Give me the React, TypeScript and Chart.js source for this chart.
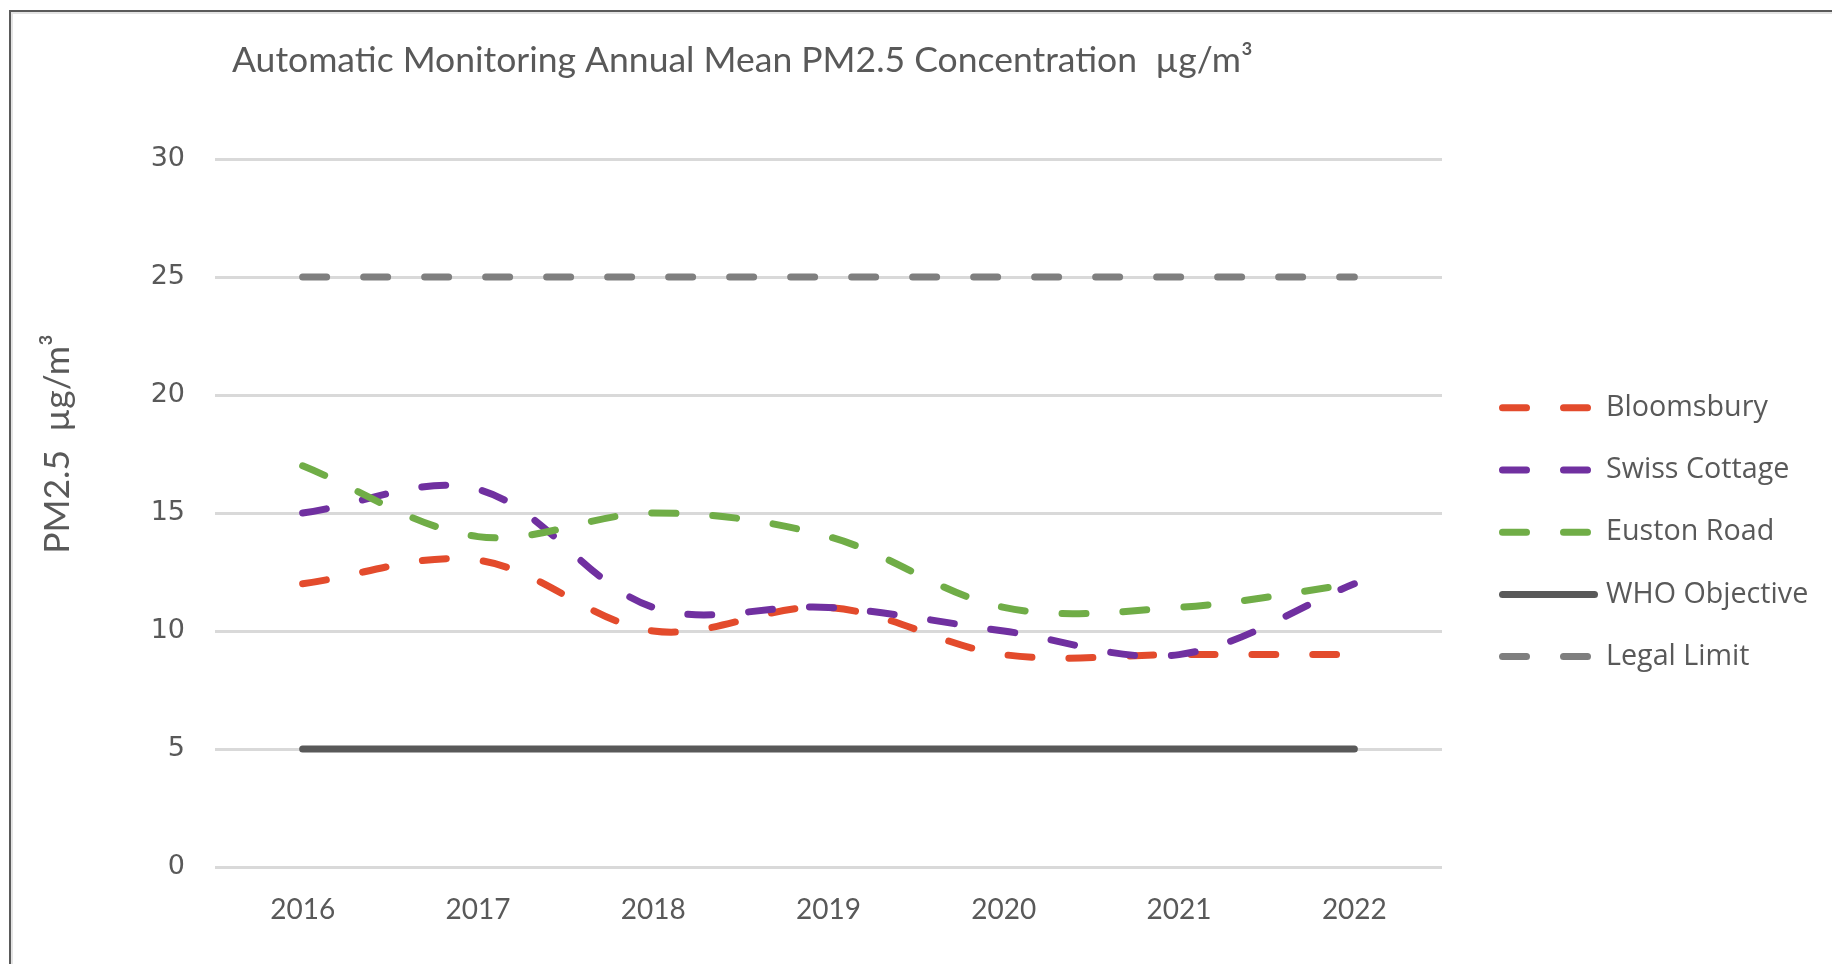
import React, { useEffect, useRef } from "react";
import { Chart, registerables } from "chart.js";

Chart.register(...registerables);

// ---- data ----
const years = ["2016", "2017", "2018", "2019", "2020", "2021", "2022"];
const bloomsbury = [12, 13, 10, 11, 9, 9, 9];
const swissCottage = [15, 16, 11, 11, 10, 9, 12];
const eustonRoad = [17, 14, 15, 14, 11, 11, 12];
const whoObjective = [5, 5, 5, 5, 5, 5, 5];
const legalLimit = [25, 25, 25, 25, 25, 25, 25];
const seriesNames = ["Bloomsbury", "Swiss Cottage", "Euston Road", "WHO Objective", "Legal Limit"];
const seriesColors = ["#E34B2C", "#7030A0", "#70AD47", "#595959", "#7F7F7F"];
const seriesDashed = [true, true, true, false, true];
const yMin = 0;
const yMax = 30;
const yStep = 5;
const chartTitle = "Automatic Monitoring Annual Mean PM2.5 Concentration  µg/m³";
const yAxisTitle = "PM2.5  µg/m³";

const TEXT = "#595959";
const DASH = [24, 37];

const overlayPlugin = {
  id: "overlay",
  afterDraw(chart: any) {
    const ctx = chart.ctx;
    ctx.save();
    // title
    ctx.fillStyle = TEXT;
    ctx.font = "35.5px Lato";
    ctx.textAlign = "left";
    ctx.textBaseline = "middle";
    ctx.fillText(chartTitle, 232, 61);

    // y axis title
    ctx.save();
    ctx.translate(58, 444);
    ctx.rotate(-Math.PI / 2);
    ctx.textAlign = "center";
    ctx.textBaseline = "middle";
    ctx.font = "35.5px Lato";
    ctx.fillText(yAxisTitle, 0, 0);
    ctx.restore();

    // legend
    const x0 = 1502.5;
    const x1 = 1592.5;
    const top = 407.8;
    const gap = 62.2;
    chart.data.datasets.forEach((ds: any, i: number) => {
      const y = top + i * gap;
      ctx.beginPath();
      ctx.strokeStyle = ds.borderColor;
      ctx.lineWidth = ds.borderWidth;
      ctx.lineCap = "round";
      ctx.setLineDash(ds.borderDash || []);
      ctx.moveTo(x0, y);
      ctx.lineTo(ds.borderDash && ds.borderDash.length ? x1 : x1 + 2, y);
      ctx.stroke();
      ctx.setLineDash([]);
      ctx.fillStyle = TEXT;
      ctx.font = "28.7px 'Open Sans'";
      ctx.textAlign = "left";
      ctx.textBaseline = "middle";
      ctx.fillText(ds.label, 1606, y);
    });
    ctx.restore();
  },
};

export default function App() {
  const ref = useRef<HTMLCanvasElement | null>(null);

  useEffect(() => {
    if (!ref.current) return;
    const values = [bloomsbury, swissCottage, eustonRoad, whoObjective, legalLimit];
    const chart = new Chart(ref.current, {
      type: "line",
      data: {
        labels: years,
        datasets: values.map((v, i) => ({
          label: seriesNames[i],
          data: v,
          borderColor: seriesColors[i],
          backgroundColor: seriesColors[i],
          borderWidth: 7,
          borderDash: seriesDashed[i] ? DASH : [],
          borderCapStyle: "round" as const,
          borderJoinStyle: "round" as const,
          pointRadius: 0,
          pointHoverRadius: 0,
          tension: i < 3 ? 0.35 : 0,
          fill: false,
          order: 10 - i,
        })),
      },
      options: {
        animation: false,
        responsive: false,
        devicePixelRatio: 1,
        events: [],
        layout: { padding: { left: 0, right: 390, top: 159, bottom: 0 } },
        plugins: {
          legend: { display: false },
          title: { display: false },
          tooltip: { enabled: false },
        },
        scales: {
          x: {
            offset: true,
            grid: { display: false, drawTicks: false },
            border: { display: false },
            ticks: {
              color: TEXT,
              font: { family: "Lato", size: 28 },
              padding: 26,
              maxRotation: 0,
            },
            afterFit(scale: any) {
              scale.height = 964 - 867;
            },
          },
          y: {
            min: yMin,
            max: yMax,
            grid: { color: "#D9D9D9", lineWidth: 3, drawTicks: false },
            border: { display: false },
            ticks: {
              stepSize: yStep,
              color: TEXT,
              font: { family: "DejaVu Sans", size: 27 },
              padding: 30,
            },
            afterFit(scale: any) {
              scale.width = 215;
            },
          },
        },
      },
      plugins: [overlayPlugin],
    });
    if ((document as any).fonts && (document as any).fonts.ready) {
      (document as any).fonts.ready.then(() => {
        try { chart.update(); } catch (e) {}
      });
    }
    return () => chart.destroy();
  }, []);

  return (
    <div style={{ position: "fixed", left: 0, top: 0, width: 1832, height: 964, background: "#fff", overflow: "hidden" }}>
      <div
        style={{
          position: "absolute",
          left: 9,
          top: 10,
          width: 1900,
          height: 1000,
          borderLeft: "2px solid #5A5A5A",
          borderTop: "2px solid #5A5A5A",
          boxShadow: "inset 2px 2px 0 #E4E4E4",
        }}
      />
      <canvas ref={ref} width={1832} height={964} style={{ position: "absolute", left: 0, top: 0, width: 1832, height: 964 }} />
    </div>
  );
}
